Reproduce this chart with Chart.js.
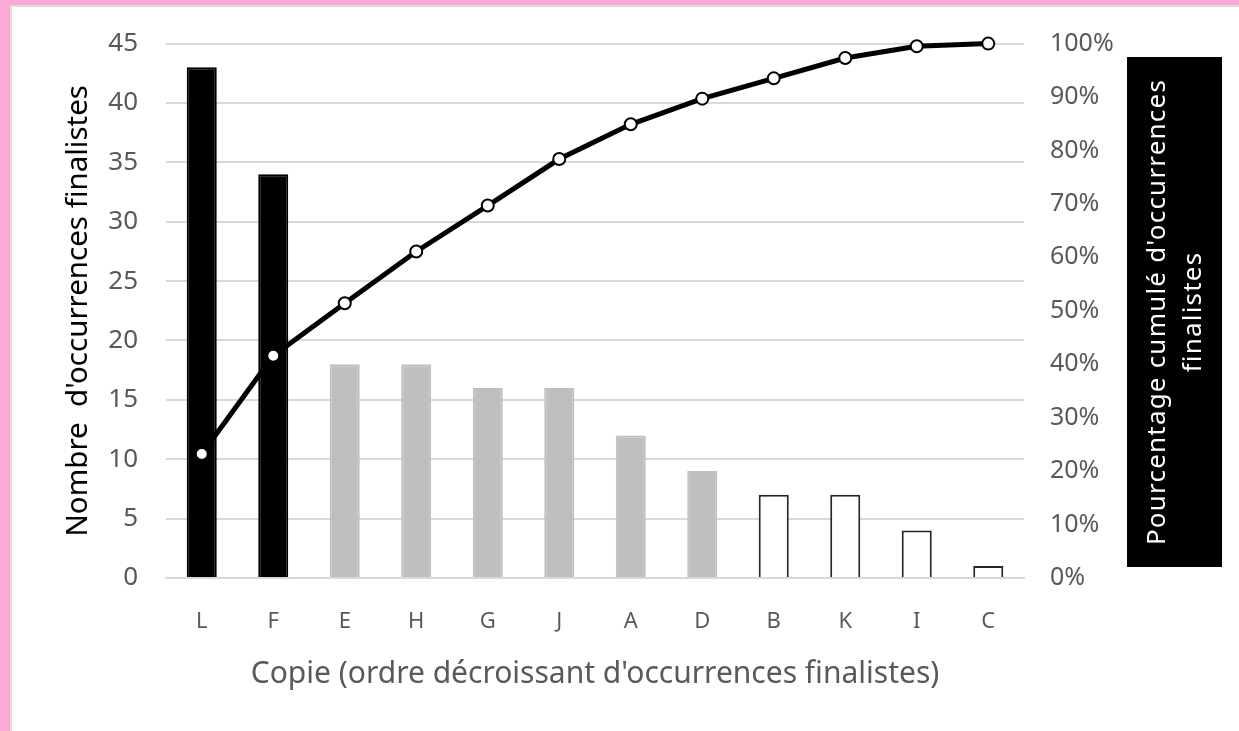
<!DOCTYPE html>
<html>
  <head>
    <meta charset="utf-8" />
    <script src="https://cdn.jsdelivr.net/npm/chart.js"></script>
    <title>Pareto</title>
    <style>
      html, body { margin: 0; padding: 0; background: #fff; }
      #wrap { width: 1239px; height: 731px; position: relative; }
    </style>
  </head>
  <body>
    <div id="wrap"><canvas id="pareto"></canvas></div>

    <script>
      // données
      var copies = ["L", "F", "E", "H", "G", "J", "A", "D", "B", "K", "I", "C"];
      var occurrences = [43, 34, 18, 18, 16, 16, 12, 9, 7, 7, 4, 1];
      var cumulPct = [23.2, 41.6, 51.4, 61.1, 69.7, 78.4, 84.9, 89.7, 93.5, 97.3, 99.5, 100];
      var classes = ["A", "A", "B", "B", "B", "B", "B", "B", "C", "C", "C", "C"];
      var leftTicks = [0, 5, 10, 15, 20, 25, 30, 35, 40, 45];
      var rightTicks = [0, 10, 20, 30, 40, 50, 60, 70, 80, 90, 100];

      var fillByClass = { A: "#000000", B: "#bfbfbf", C: "#ffffff" };
      var borderByClass = { A: "#000000", B: "#bfbfbf", C: "#262626" };

      var FONT = "'Noto Sans', 'Open Sans', sans-serif";
      var GREY = "#595959";

      // cadre rose + titre de l'axe de droite dans un rectangle noir
      var decor = {
        id: "decor",
        beforeDraw: function (chart) {
          var ctx = chart.ctx;
          ctx.save();
          ctx.fillStyle = "#ffffff";
          ctx.fillRect(0, 0, chart.width, chart.height);
          ctx.fillStyle = "#fba9d6";
          ctx.fillRect(0, 0, chart.width, 5);
          ctx.fillRect(0, 0, 10, chart.height);
          ctx.fillStyle = "#dcdcdc";
          ctx.fillRect(10, 5, chart.width - 10, 2);
          ctx.fillRect(10, 5, 2, chart.height - 5);
          ctx.restore();
        },
        afterDraw: function (chart) {
          var ctx = chart.ctx;
          var x0 = 1127, y0 = 57, w = 95, h = 510;
          ctx.save();
          ctx.fillStyle = "#000";
          ctx.fillRect(x0, y0, w, h);
          ctx.translate(x0 + w / 2, y0 + h / 2);
          ctx.rotate(-Math.PI / 2);
          ctx.fillStyle = "#fff";
          ctx.font = "26px " + FONT;
          ctx.letterSpacing = "1.2px";
          ctx.textAlign = "center";
          ctx.textBaseline = "middle";
          ctx.fillText("Pourcentage cumulé d'occurrences", 0, -17);
          ctx.fillText("finalistes", 0, 19);
          ctx.restore();
        },
      };

      var ctx = document.getElementById("pareto").getContext("2d");
      new Chart(ctx, {
        data: {
          labels: copies,
          datasets: [
            {
              type: "line",
              data: cumulPct,
              yAxisID: "y1",
              order: 0,
              clip: false,
              borderColor: "#000",
              borderWidth: 5,
              pointRadius: 6,
              pointBorderWidth: 2,
              pointBackgroundColor: "#fff",
              pointBorderColor: "#000",
              tension: 0,
            },
            {
              type: "bar",
              data: occurrences,
              yAxisID: "y",
              order: 1,
              backgroundColor: classes.map(function (c) { return fillByClass[c]; }),
              borderColor: classes.map(function (c) { return borderByClass[c]; }),
              borderWidth: 2,
              categoryPercentage: 1,
              barPercentage: 0.42,
            },
          ],
        },
        options: {
          responsive: true,
          maintainAspectRatio: false,
          animation: false,
          layout: { padding: { top: 42, left: 0, right: 0, bottom: 0 } },
          plugins: { legend: { display: false }, tooltip: { enabled: false } },
          scales: {
            x: {
              grid: { display: false, drawTicks: false },
              border: { color: "#d9d9d9", width: 2 },
              ticks: { color: GREY, font: { family: FONT, size: 22 }, padding: 31 },
              title: {
                display: true,
                text: "Copie (ordre décroissant d'occurrences finalistes)",
                color: GREY,
                font: { family: FONT, size: 30 },
                padding: { top: 10, bottom: 39 },
              },
              afterFit: function (s) { s.height = 153; },
            },
            y: {
              position: "left",
              min: 0,
              max: 45,
              afterBuildTicks: function (s) { s.ticks = leftTicks.map(function (v) { return { value: v }; }); },
              grid: { color: "#d9d9d9", lineWidth: 2, drawTicks: false },
              border: { display: false },
              ticks: { color: GREY, font: { family: FONT, size: 26 }, padding: 28 },
              title: {
                display: true,
                text: "Nombre  d'occurrences finalistes",
                color: "#000",
                font: { family: FONT, size: 29.5 },
                padding: { top: 61, bottom: 0 },
              },
              afterFit: function (s) { s.width = 166; },
            },
            y1: {
              position: "right",
              min: 0,
              max: 100,
              afterBuildTicks: function (s) { s.ticks = rightTicks.map(function (v) { return { value: v }; }); },
              grid: { display: false, drawTicks: false },
              border: { display: false },
              ticks: {
                color: GREY,
                font: { family: FONT, size: 25 },
                padding: 26,
                callback: function (v) { return v + "%"; },
              },
              afterFit: function (s) { s.width = 215; },
            },
          },
        },
        plugins: [decor],
      });
    </script>
  </body>
</html>
